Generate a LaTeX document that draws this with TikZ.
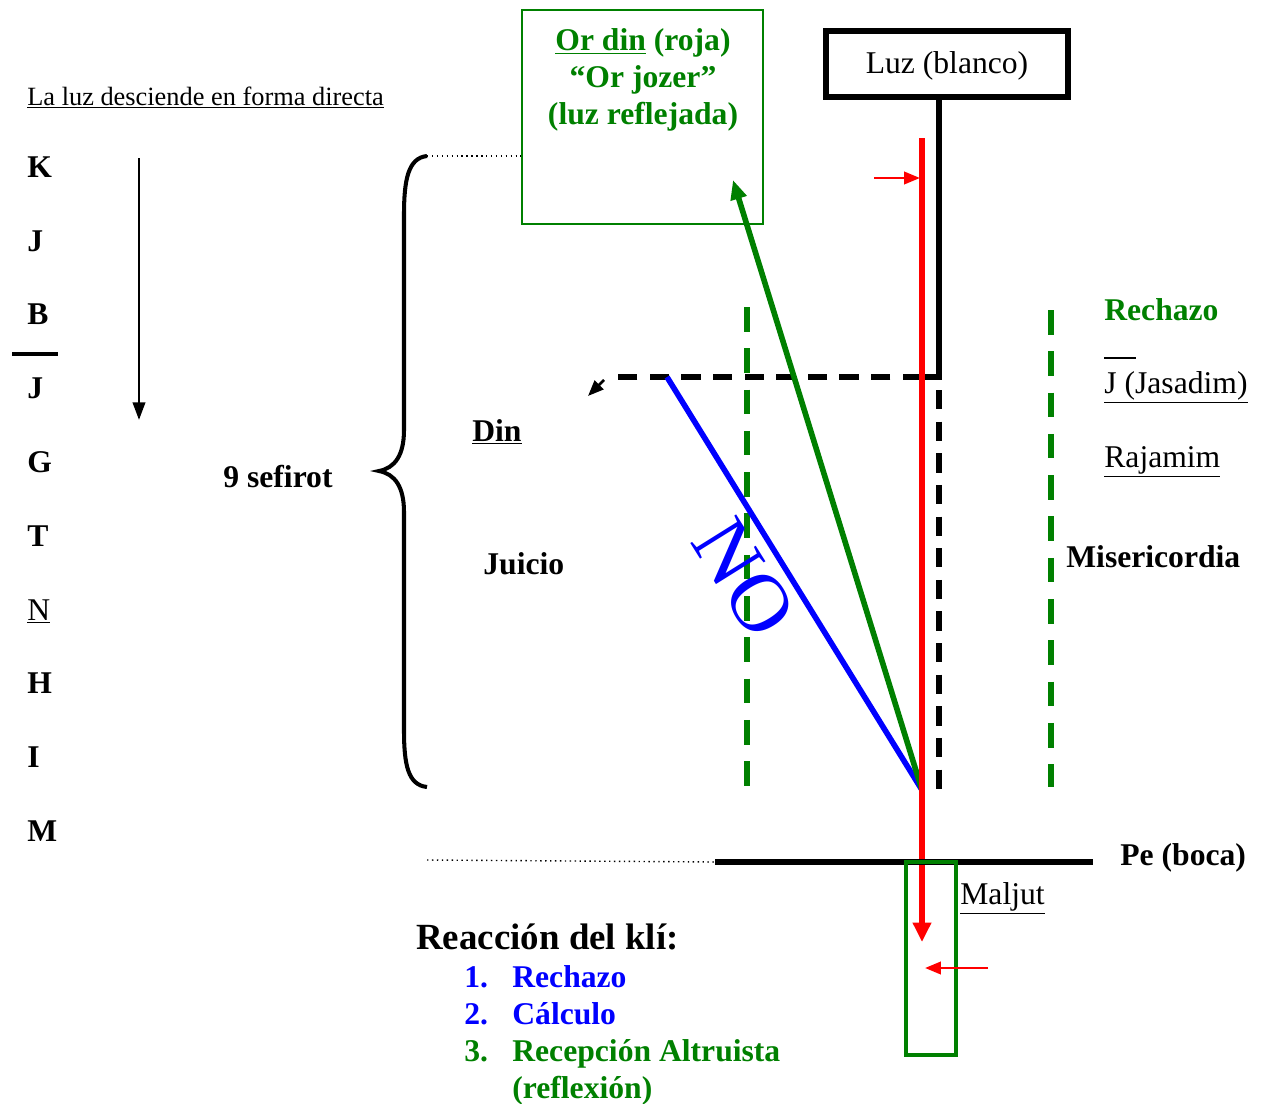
\documentclass[tikz,border=0pt]{standalone}
\usepackage{fontspec}
\setmainfont{Liberation Serif}
\usetikzlibrary{arrows.meta}
\definecolor{kgreen}{RGB}{0,128,0}
\tikzset{
  lbl/.style={font=\fontsize{18}{21}\selectfont\bfseries, inner sep=0pt, anchor=base west},
  txt/.style={font=\fontsize{18}{21}\selectfont, inner sep=0pt, anchor=base west},
  gdash/.style={kgreen, line width=3.6pt, dash pattern=on 14pt off 9.5pt},
  kdash/.style={line width=3.4pt, dash pattern=on 11pt off 7pt},
  bigtip/.style={-{Triangle[length=11pt,width=10pt]}},
  smalltip/.style={-{Triangle[length=9pt,width=7pt]}},
}
\begin{document}
\begin{tikzpicture}[x=0.2mm,y=-0.2mm]
  \useasboundingbox (0,0) rectangle (1264,1104);

  % left column
  \node[txt, font=\fontsize{15}{18}\selectfont] (title) at (27,105) {\underline{La luz desciende en forma directa}};
  \foreach \l/\y in {K/177, J/251, B/324, J/398, G/472, T/546, H/693, I/767, M/841}
    \node[lbl] (s\y) at (27,\y) {\l};
  \node[txt] (s620) at (27,620) {\underline{N}};
  \coordinate (sepL) at (12,354);
  \coordinate (sepR) at (58,354);
  \draw [line width=2.3pt] (sepL) -- (sepR);
  \coordinate (downA) at (139,158);
  \coordinate (downB) at (139,420);
  \draw [line width=1.5pt, -{Triangle[length=10pt,width=7pt]}] (downA) -- (downB);

  % brace
  \node[lbl] (nine) at (223,487) {9 sefirot};
  \coordinate (braceT) at (427,156);
  \coordinate (braceB) at (427,787);
  \draw [line width=2.3pt] (braceT) .. controls (408,158) and (404,180) .. (404,215) -- (404,430)
    .. controls (404,455) and (395,468) .. (379,471) .. controls (395,474) and (404,487) .. (404,512)
    -- (404,730) .. controls (404,765) and (408,785) .. (braceB);

  % reflected light box
  \node[draw=kgreen, line width=1.5pt, minimum width=48.2mm, minimum height=42.8mm, inner sep=0pt] (ordin) at (642.5,117) {};
  \node[font=\fontsize{18}{21}\selectfont\bfseries, text=kgreen, align=center, anchor=north, inner sep=0pt] (ordintxt) at (643,28)
    {\underline{Or din} (roja)\\``Or jozer''\\(luz reflejada)};
  \draw [dotted, line width=0.8pt] (braceT) -- (ordin.west |- braceT);

  % white light
  \node[draw, line width=3.6pt, minimum width=48.4mm, minimum height=13.2mm] (luz) at (947,64) {};
  \node[font=\fontsize{18}{21}\selectfont, inner sep=0pt] (luztxt) at (947,66) {Luz (blanco)};
  \coordinate (corner) at (939,377);
  \coordinate (redC) at (922,377);
  \coordinate (dinEnd) at (610,377);
  \draw [line width=3.2pt] (luz.south -| corner) -- (corner) -- (redC);
  \draw [kdash, line width=3pt] (redC) -- (dinEnd);
  \draw [line width=1.5pt, -{Triangle[length=9pt,width=7pt]}] (604,380) -- (588,396);
  \coordinate (kdashT) at (939,390);
  \coordinate (kdashB) at (939,790);
  \draw [kdash] (kdashT) -- (kdashB);

  % green dashed walls
  \draw [gdash] (747,307) -- (747,787);
  \draw [gdash] (1051,310) -- (1051,787);

  % rays
  \coordinate (hit) at (922,790);
  \coordinate (blueT) at (667,377);
  \coordinate (greenT) at (733,180);
  \draw [blue, line width=3.2pt] (blueT) -- (hit);
  \draw [kgreen, line width=3.2pt, -{Triangle[length=11pt,width=9pt]}] (hit) -- (greenT);
  \coordinate (redT) at (922,138);
  \coordinate (redB) at (922,942);
  \draw [red, line width=3.8pt, bigtip] (redT) -- (redB);
  \draw [red, line width=1.5pt, smalltip] (874,178) -- (920,178);
  \node[blue, font=\fontsize{47}{47}\selectfont, rotate=-58, inner sep=0pt] (no) at (744,578) {NO};

  % mouth and screen
  \coordinate (peL) at (715,862);
  \coordinate (peR) at (1093,862);
  \draw [line width=3.6pt] (peL) -- (peR);
  \draw [dotted, line width=0.8pt] (427,860) -- (peL);
  \node[draw=kgreen, line width=2.5pt, minimum width=10mm, minimum height=38.6mm, inner sep=0pt] (maljutbox) at (931,958.5) {};
  \draw [red, line width=1.5pt, smalltip] (988,968) -- (925,968);
  \node[lbl] (pe) at (1120,865) {Pe (boca)};
  \node[txt] (maljut) at (960,904) {\underline{Maljut}};

  % middle labels
  \node[lbl] (din) at (472,441) {\underline{Din}};
  \node[lbl] (juicio) at (483,574) {Juicio};

  % right labels
  \node[lbl, text=kgreen] (rech) at (1104,320) {Rechazo};
  \draw [line width=1pt] (1104,358) -- (1136,358);
  \node[txt] (jas) at (1104,393) {\underline{J (Jasadim)}};
  \node[txt] (raj) at (1104,467) {\underline{Rajamim}};
  \node[lbl] (mis) at (1066,567) {Misericordia};

  % reaction list
  \node[lbl, font=\fontsize{21}{24}\selectfont\bfseries] (reac) at (416,949) {Reacción del klí:};
  \foreach \n/\t/\c/\y in {1./Rechazo/blue/987, 2./Cálculo/blue/1024, 3./Recepción Altruista/kgreen/1061} {
    \node[lbl, text=\c] (n\y) at (464,\y) {\n};
    \node[lbl, text=\c] (t\y) at (512,\y) {\t};
  }
  \node[lbl, text=kgreen] (t1098) at (512,1098) {(reflexión)};
\end{tikzpicture}
\end{document}
